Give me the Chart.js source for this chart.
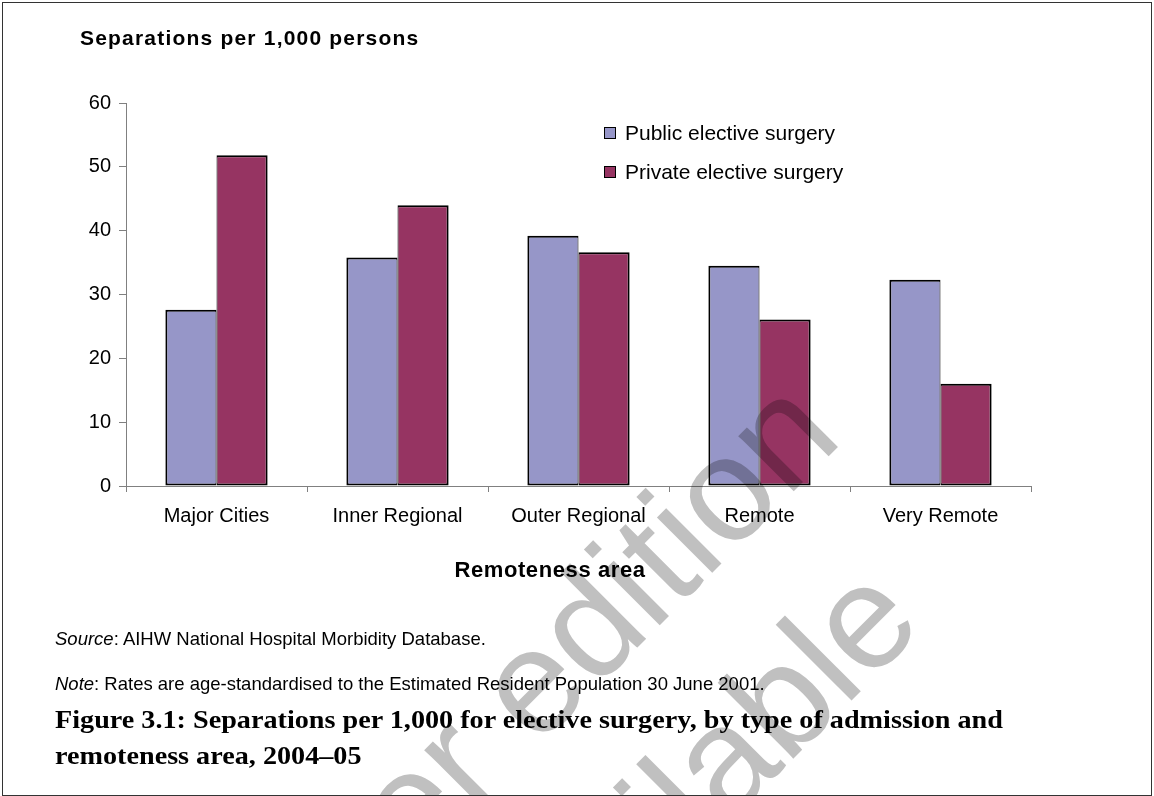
<!DOCTYPE html>
<html>
<head>
<meta charset="utf-8">
<script src="https://cdn.jsdelivr.net/npm/chart.js@4/dist/chart.umd.min.js"></script>
<style>
  body { margin: 0; background: #fff; }
  #page { position: relative; width: 1154px; height: 796px; overflow: hidden; font-family: "Liberation Sans", Arial, sans-serif; color: #000; }
  #frame { position: absolute; left: 2px; top: 2px; width: 1150px; height: 794px; box-sizing: border-box; border: 1px solid #333; }
  canvas { position: absolute; left: 0; top: 0; }
  .txt { position: absolute; white-space: nowrap; line-height: 1; }
  #ytitle { left: 80px; top: 27px; font-weight: bold; font-size: 21px; letter-spacing: 1.2px; }
  #xtitle { left: 550px; top: 559px; transform: translateX(-50%); font-weight: bold; font-size: 22px; letter-spacing: 0.6px; }
  #legend { position: absolute; left: 604px; top: 121px; }
  #legend div { height: 39px; font-size: 21px; display: flex; align-items: flex-start; }
  #legend span.box { display: inline-block; width: 10px; height: 10px; border: 1.5px solid #000; margin: 6px 9px 0 0; }
  #source { left: 55px; top: 630px; font-size: 18.5px; }
  #note { left: 55px; top: 675px; font-size: 18.5px; }
  #caption { left: 55px; top: 702px; font-family: "Liberation Serif", "DejaVu Serif", serif; font-weight: bold; font-size: 25px; line-height: 36px; transform-origin: 0 0; }
</style>
</head>
<body>
<div id="page">
  <canvas id="chart" width="1154" height="796"></canvas>
  <div id="frame"></div>
  <div class="txt" id="ytitle">Separations per 1,000 persons</div>
  <div id="legend"></div>
  <div class="txt" id="xtitle">Remoteness area</div>
  <div class="txt" id="source"><i>Source</i>: AIHW National Hospital Morbidity Database.</div>
  <div class="txt" id="note"><i>Note</i>: Rates are age-standardised to the Estimated Resident Population 30 June 2001.</div>
  <div class="txt" id="caption">Figure 3.1: Separations per 1,000 for elective surgery, by type of admission and<br>remoteness area, 2004–05</div>
</div>
<script>
const areas = ["Major Cities", "Inner Regional", "Outer Regional", "Remote", "Very Remote"]
const publicRates = [27.6, 35.8, 39.2, 34.5, 32.3]
const privateRates = [51.8, 44.0, 36.6, 26.1, 16.0]
const yTicks = [0, 10, 20, 30, 40, 50, 60]

Chart.defaults.font.family = '"Liberation Sans", Arial, sans-serif'
Chart.defaults.color = "#000"

// grey diagonal watermark, multiplied over the bars
const watermark = {
  id: "watermark",
  afterDraw(chart) {
    const ctx = chart.ctx
    const pt = (c, a) => [(c + a * Math.SQRT2) / 2, (c - a * Math.SQRT2) / 2]
    ctx.save()
    ctx.globalCompositeOperation = "multiply"
    ctx.fillStyle = "#c0c0c0"
    ctx.font = '148px "Liberation Sans", Arial, sans-serif'
    ctx.textBaseline = "alphabetic"
    const lines = [
      { text: "later edition", c: 1285, a: -150 - ctx.measureText("later ").width },
      { text: "available", c: 1552, a: -372 },
    ]
    lines.forEach(l => {
      const [x, y] = pt(l.c, l.a)
      ctx.save()
      ctx.translate(x, y)
      ctx.rotate(-Math.PI / 4)
      ctx.fillText(l.text, 0, 0)
      ctx.restore()
    })
    ctx.restore()
  }
}

const chart = new Chart(document.getElementById("chart"), {
  type: "bar",
  data: {
    labels: areas,
    datasets: [{
      label: "Public elective surgery",
      data: publicRates,
      backgroundColor: "#9696c8",
      borderColor: "#000",
      borderWidth: { top: 2, left: 2, right: 1, bottom: 2 },
      borderSkipped: false,
    }, {
      label: "Private elective surgery",
      data: privateRates,
      backgroundColor: "#963462",
      borderColor: "#000",
      borderWidth: { top: 2, left: 1, right: 2, bottom: 2 },
      borderSkipped: false,
    }],
  },
  options: {
    responsive: false,
    animation: false,
    devicePixelRatio: 1,
    categoryPercentage: 0.565,
    barPercentage: 1.0,
    layout: {
      padding: { left: 70, right: 123, top: 103, bottom: 251 }
    },
    plugins: {
      legend: { display: false },
      tooltip: { enabled: false },
    },
    scales: {
      x: {
        grid: { drawOnChartArea: false, color: "#808080", tickLength: 6 },
        border: { color: "#808080", width: 1 },
        ticks: { font: { size: 20 }, padding: 12, maxRotation: 0 },
        afterFit: s => { s.height = 59 },
      },
      y: {
        min: 0,
        max: 60,
        afterBuildTicks: s => { s.ticks = yTicks.map(v => ({ value: v })) },
        grid: { drawOnChartArea: false, color: "#808080", tickLength: 7 },
        border: { color: "#808080", width: 1 },
        ticks: { font: { size: 20 }, padding: 8 },
        afterFit: s => { s.width = 56 },
      },
    },
  },
  plugins: [watermark],
})

// legend built from the datasets
const legend = document.getElementById("legend")
chart.data.datasets.forEach(ds => {
  const row = document.createElement("div")
  const box = document.createElement("span")
  box.className = "box"
  box.style.background = ds.backgroundColor
  row.appendChild(box)
  row.appendChild(document.createTextNode(ds.label))
  legend.appendChild(row)
})

// the caption face in the original is wider than Liberation Serif: stretch to its width
const cap = document.getElementById("caption")
cap.style.transform = "scaleX(" + (948 / cap.offsetWidth) + ")"
</script>
</body>
</html>
